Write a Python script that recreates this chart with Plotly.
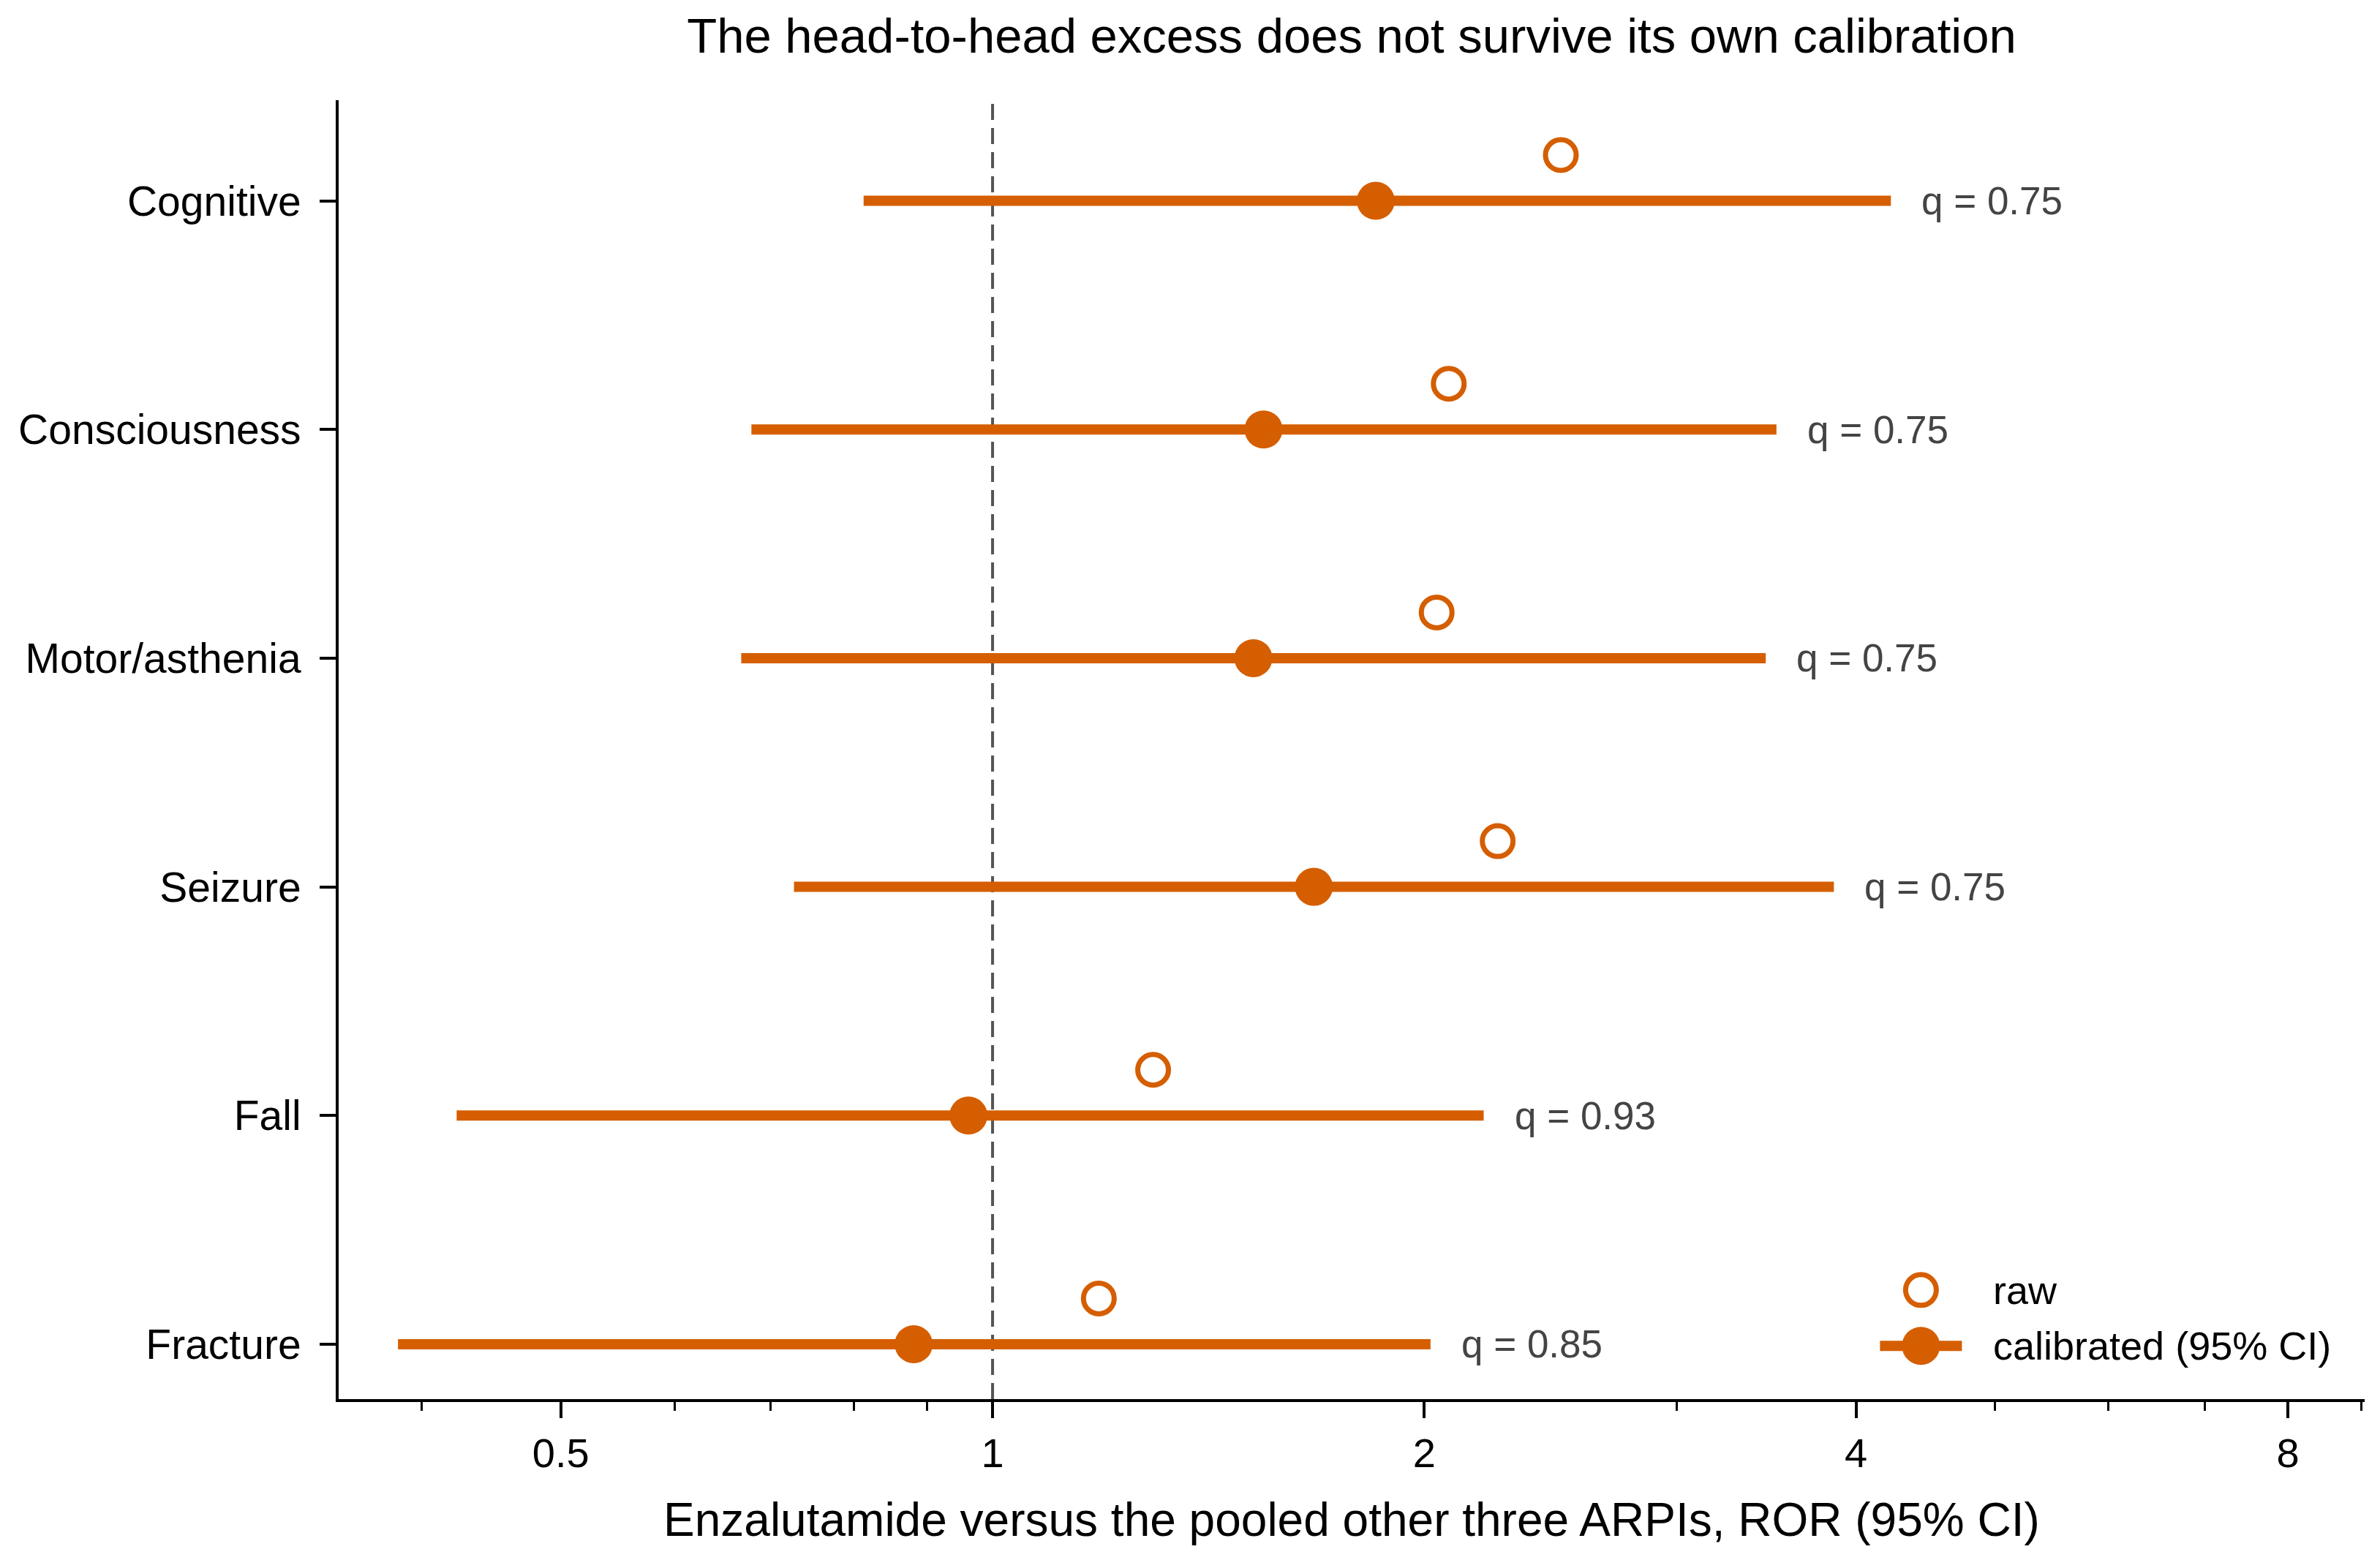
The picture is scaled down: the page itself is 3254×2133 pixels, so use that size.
import math
import plotly.graph_objects as go

# rows, top to bottom
outcomes = ["Cognitive", "Consciousness", "Motor/asthenia", "Seizure", "Fall", "Fracture"]
calibrated = [1.85, 1.545, 1.52, 1.675, 0.962, 0.881]
ci_low = [0.813, 0.679, 0.668, 0.727, 0.423, 0.385]
ci_high = [4.23, 3.52, 3.46, 3.86, 2.20, 2.02]
raw = [2.49, 2.08, 2.04, 2.25, 1.294, 1.186]
q_values = ["0.75", "0.75", "0.75", "0.75", "0.93", "0.85"]

xtick_vals = [0.5, 1, 2, 4, 8]
xtick_text = ["0.5", "1", "2", "4", "8"]
minor_vals = [0.4, 0.6, 0.7, 0.8, 0.9, 3, 5, 6, 7, 9]

orange = "#D55E00"
font = "Liberation Sans, Arial, Helvetica, sans-serif"

n = len(outcomes)
ypos = [n - 1 - i for i in range(n)]
raw_offset = 0.2

fig = go.Figure()

# CI segments
seg_x, seg_y = [], []
for lo, hi, y in zip(ci_low, ci_high, ypos):
    seg_x += [lo, hi, None]
    seg_y += [y, y, None]
fig.add_trace(go.Scatter(x=seg_x, y=seg_y, mode="lines",
                         line=dict(color=orange, width=14),
                         showlegend=False, hoverinfo="skip"))

# raw estimates
fig.add_trace(go.Scatter(x=raw, y=[y + raw_offset for y in ypos], mode="markers",
                         name="raw", showlegend=False,
                         marker=dict(symbol="circle-open", size=42, color=orange,
                                     line=dict(color=orange, width=7))))

# calibrated estimates
fig.add_trace(go.Scatter(x=calibrated, y=ypos, mode="markers",
                         name="calibrated (95% CI)", showlegend=False,
                         marker=dict(symbol="circle", size=52, color=orange)))

for hi, y, q in zip(ci_high, ypos, q_values):
    fig.add_annotation(x=math.log10(hi), y=y, text="q = " + q, showarrow=False,
                       xanchor="left", yanchor="middle", xshift=40,
                       font=dict(size=53, color="#444444", family=font))

fig.add_shape(type="line", xref="x", yref="paper", x0=1, x1=1, y0=0, y1=1,
              line=dict(color="#555555", width=4, dash="22px,11px"), layer="below")

# legend drawn by hand so the symbols keep their real size
leg_x, leg_text_x = 0.781, 0.816
leg_y_raw, leg_y_cal = 0.084, 0.041
fig.add_shape(type="circle", xref="paper", yref="paper",
              xsizemode="pixel", ysizemode="pixel",
              xanchor=leg_x, yanchor=leg_y_raw, x0=-21, x1=21, y0=-21, y1=21,
              line=dict(color=orange, width=7), fillcolor="rgba(0,0,0,0)")
fig.add_shape(type="line", xref="paper", yref="paper",
              xsizemode="pixel", ysizemode="pixel",
              xanchor=leg_x, yanchor=leg_y_cal, x0=-56, x1=56, y0=0, y1=0,
              line=dict(color=orange, width=14))
fig.add_shape(type="circle", xref="paper", yref="paper",
              xsizemode="pixel", ysizemode="pixel",
              xanchor=leg_x, yanchor=leg_y_cal, x0=-26, x1=26, y0=-26, y1=26,
              line=dict(color=orange, width=0), fillcolor=orange)
fig.add_annotation(xref="paper", yref="paper", x=leg_text_x, y=leg_y_raw, text="raw",
                   showarrow=False, xanchor="left", yanchor="middle",
                   font=dict(size=54, color="black"))
fig.add_annotation(xref="paper", yref="paper", x=leg_text_x, y=leg_y_cal,
                   text="calibrated (95% CI)",
                   showarrow=False, xanchor="left", yanchor="middle",
                   font=dict(size=54, color="black"))

# x axis title
fig.add_annotation(xref="paper", yref="paper", x=0.5, y=-0.093,
                   text="Enzalutamide versus the pooled other three ARPIs, ROR (95% CI)",
                   showarrow=False, xanchor="center", yanchor="middle",
                   font=dict(size=64, color="black"))

fig.update_layout(
    width=3254, height=2133,
    margin=dict(l=455, r=29, t=129, b=228),
    plot_bgcolor="white", paper_bgcolor="white",
    font=dict(family=font, size=54, color="black"),
    title=dict(text="The head-to-head excess does not survive its own calibration",
               xref="paper", x=0.5, xanchor="center", y=0.981, yanchor="middle",
               font=dict(size=67, color="black")),
    showlegend=False,
)

fig.update_xaxes(
    type="log",
    range=[math.log10(0.35), math.log10(9.05)],
    tickmode="array", tickvals=xtick_vals, ticktext=xtick_text,
    ticks="outside", ticklen=22, tickwidth=4, tickcolor="black",
    showline=True, linewidth=4, linecolor="black",
    showgrid=False, zeroline=False,
    minor=dict(tickmode="array", tickvals=minor_vals, ticks="outside",
               ticklen=12, tickwidth=3, tickcolor="black", showgrid=False),
    tickfont=dict(size=56),
)

fig.update_yaxes(
    range=[-0.24, n - 1 + 0.44],
    tickmode="array", tickvals=ypos, ticktext=outcomes,
    ticks="outside", ticklen=22, tickwidth=4, tickcolor="black",
    ticklabelstandoff=14,
    showline=True, linewidth=4, linecolor="black",
    showgrid=False, zeroline=False,
    tickfont=dict(size=57),
)

fig.write_html("out.html")
